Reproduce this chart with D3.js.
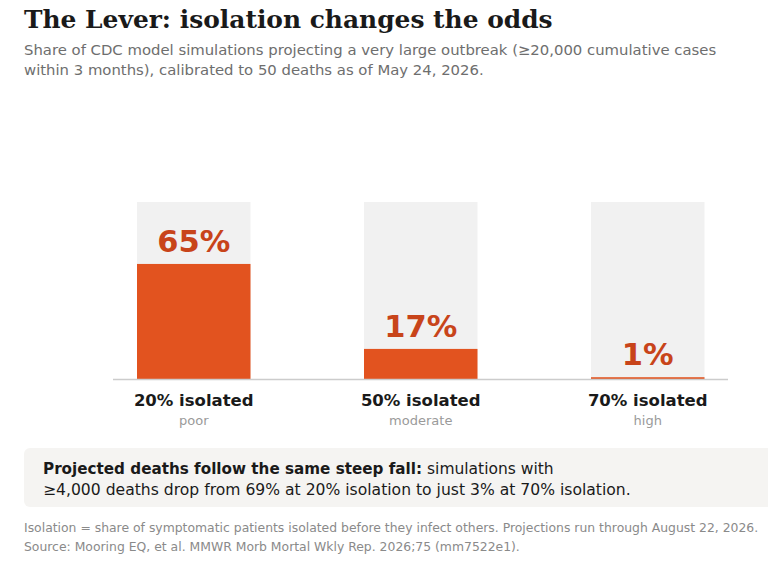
<!DOCTYPE html>
<html><head><meta charset="utf-8">
<script src="https://cdn.jsdelivr.net/npm/d3@7"></script>
<style>
html,body{margin:0;padding:0;background:#fff;}
svg{display:block;}
</style></head>
<body>
<script>
const categories = ["20% isolated", "50% isolated", "70% isolated"];
const qualities = ["poor", "moderate", "high"];
const values = [65, 17, 1];
const valueLabels = ["65%", "17%", "1%"];

const W = 768, H = 566;
const svg = d3.select("body").append("svg").attr("width", W).attr("height", H);
const sans = "'DejaVu Sans', sans-serif";

svg.append("text").attr("x", 24).attr("y", 28)
  .attr("font-family", "'DejaVu Serif', serif").attr("font-weight", "bold")
  .attr("font-size", 24.9).attr("fill", "#1a1a1a")
  .text("The Lever: isolation changes the odds");

const sub = ["Share of CDC model simulations projecting a very large outbreak (\u226520,000 cumulative cases",
  "within 3 months), calibrated to 50 deaths as of May 24, 2026."];
sub.forEach((t, i) => svg.append("text").attr("x", 24).attr("y", 55 + i * 20)
  .attr("font-family", sans).attr("font-size", 14.85).attr("fill", "#6e6e6e").text(t));

const x = d3.scaleBand().domain(categories).range([80.25, 761.25]).paddingInner(0.5).paddingOuter(0.25);
const y = d3.scaleLinear().domain([0, 100]).range([379, 202]);

const g = svg.append("g");
g.selectAll("rect.track").data(categories).join("rect")
  .attr("x", d => x(d)).attr("width", x.bandwidth())
  .attr("y", y(100)).attr("height", y(0) - y(100)).attr("fill", "#f1f1f1");

g.selectAll("rect.bar").data(values).join("rect")
  .attr("x", (d, i) => x(categories[i])).attr("width", x.bandwidth())
  .attr("y", d => y(d)).attr("height", d => y(0) - y(d)).attr("fill", "#e2531f");

g.append("line").attr("x1", 113).attr("x2", 728).attr("y1", y(0) + 0.5).attr("y2", y(0) + 0.5)
  .attr("stroke", "#cccccc").attr("stroke-width", 1.5);

g.selectAll("text.val").data(values).join("text")
  .attr("x", (d, i) => x(categories[i]) + x.bandwidth() / 2)
  .attr("y", d => y(d) - 12).attr("text-anchor", "middle")
  .attr("font-family", sans).attr("font-weight", "bold").attr("font-size", 30.5)
  .attr("fill", "#c8441a").text((d, i) => valueLabels[i]);

g.selectAll("text.cat").data(categories).join("text")
  .attr("x", d => x(d) + x.bandwidth() / 2).attr("y", 406).attr("text-anchor", "middle")
  .attr("font-family", sans).attr("font-weight", "bold").attr("font-size", 16.5)
  .attr("fill", "#1a1a1a").text(d => d);

g.selectAll("text.q").data(qualities).join("text")
  .attr("x", (d, i) => x(categories[i]) + x.bandwidth() / 2).attr("y", 425).attr("text-anchor", "middle")
  .attr("font-family", sans).attr("font-size", 13).attr("fill", "#9a9a9a").text(d => d);

svg.append("rect").attr("x", 24).attr("y", 448).attr("width", 760).attr("height", 59)
  .attr("rx", 6).attr("fill", "#f5f4f2");
const t1 = svg.append("text").attr("x", 43).attr("y", 474)
  .attr("font-family", sans).attr("font-size", 15.5).attr("fill", "#1a1a1a");
t1.append("tspan").attr("font-weight", "bold").attr("font-size", 15.2).text("Projected deaths follow the same steep fall:");
t1.append("tspan").text(" simulations with");
svg.append("text").attr("x", 43).attr("y", 495)
  .attr("font-family", sans).attr("font-size", 15.6).attr("fill", "#1a1a1a")
  .text("\u22654,000 deaths drop from 69% at 20% isolation to just 3% at 70% isolation.");

const foot = ["Isolation = share of symptomatic patients isolated before they infect others. Projections run through August 22, 2026.",
  "Source: Mooring EQ, et al. MMWR Morb Mortal Wkly Rep. 2026;75 (mm7522e1)."];
foot.forEach((t, i) => svg.append("text").attr("x", 24).attr("y", 532 + i * 19)
  .attr("font-family", sans).attr("font-size", 12.4).attr("fill", "#8a8a8a").text(t));
</script>
</body></html>
